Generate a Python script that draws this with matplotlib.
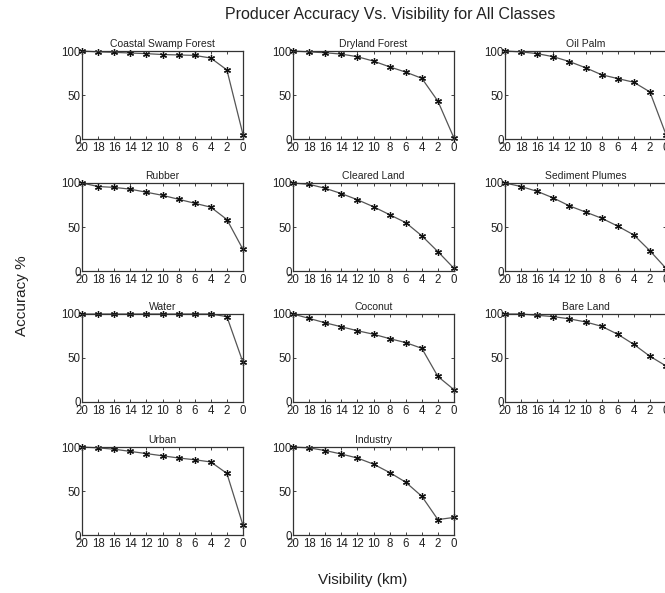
import matplotlib
matplotlib.use("Agg")
import matplotlib.pyplot as plt

plt.rcParams['font.family'] = ['Liberation Sans', 'DejaVu Sans']

visibility = [20, 18, 16, 14, 12, 10, 8, 6, 4, 2, 0]
xtick_labels = ['20', '18', '16', '14', '12', '10', '8', '6', '4', '2', '0']
yticks = [0, 50, 100]

class_names = ["Coastal Swamp Forest", "Dryland Forest", "Oil Palm",
               "Rubber", "Cleared Land", "Sediment Plumes",
               "Water", "Coconut", "Bare Land",
               "Urban", "Industry"]

coastal_swamp_forest = [100, 99, 98.5, 97.7, 97, 96, 95.5, 95, 92, 78.5, 5]
dryland_forest = [100, 99, 98, 96.5, 93.5, 88.5, 82, 76, 69, 43, 1]
oil_palm = [100, 99, 97, 93.5, 88, 81, 73, 68.7, 64.5, 53.5, 5]
rubber = [100, 96, 95, 93, 89.5, 86, 81.5, 77, 72.5, 58.5, 24.5]
cleared_land = [100, 98.5, 94, 88, 81, 73, 64, 55, 40, 22, 3]
sediment_plumes = [100, 96, 90.5, 83, 74, 67, 60, 51, 41, 23, 3]
water = [100, 100, 100, 100, 100, 100, 100, 100, 100, 97, 45]
coconut = [100, 95, 90, 85.5, 81, 77, 72, 67.5, 61, 29, 14]
bare_land = [100, 100, 98.5, 97, 94.5, 91, 86, 77, 65.5, 52, 41]
urban = [100, 99, 97.5, 95, 92.5, 90, 87.5, 85.5, 83, 70, 11]
industry = [100, 99, 96, 92, 87.5, 80.5, 71, 60, 44, 17.5, 20]

series = [coastal_swamp_forest, dryland_forest, oil_palm,
          rubber, cleared_land, sediment_plumes,
          water, coconut, bare_land,
          urban, industry]

W, H = 665, 593
fig = plt.figure(figsize=(W / 100, H / 100), dpi=100)

col_left = [82, 293, 505]
ax_w = 161
row_top = [51, 183, 314, 447]
ax_h = 88

for i, (name, vals) in enumerate(zip(class_names, series)):
    r, c = divmod(i, 3)
    left = col_left[c] / W
    bottom = 1 - (row_top[r] + ax_h) / H
    ax = fig.add_axes([left, bottom, ax_w / W, ax_h / H])
    ax.plot(visibility, vals, color='#555555', lw=0.9, marker=(6, 2, 0),
            markersize=5, markeredgecolor='#111111',
            markeredgewidth=0.9, clip_on=False)
    ax.set_xlim(20, 0)
    ax.set_ylim(0, 100)
    ax.set_xticks(visibility)
    ax.set_xticklabels(xtick_labels)
    ax.set_yticks(yticks)
    ax.tick_params(direction='in', length=2.5, width=0.6, labelsize=8.3,
                   top=True, right=True, colors='#222222')
    ax.tick_params(axis='x', pad=2.5)
    ax.tick_params(axis='y', pad=1.0)
    for sp in ax.spines.values():
        sp.set_linewidth(0.9)
        sp.set_color('#333333')
    ax.set_title(name, fontsize=7.5, pad=3, color='#222222')

fig.text(390 / W, 1 - 15 / H, "Producer Accuracy Vs. Visibility for All Classes",
         ha='center', va='center', fontsize=11.5, color='#222222')
fig.text(22 / W, 1 - 296 / H, "Accuracy %", rotation=90, ha='center', va='center',
         fontsize=11, color='#222222')
fig.text(363 / W, 1 - 580 / H, "Visibility (km)", ha='center', va='center',
         fontsize=11, color='#222222')

fig.savefig("out.png", dpi=100, facecolor='white')
